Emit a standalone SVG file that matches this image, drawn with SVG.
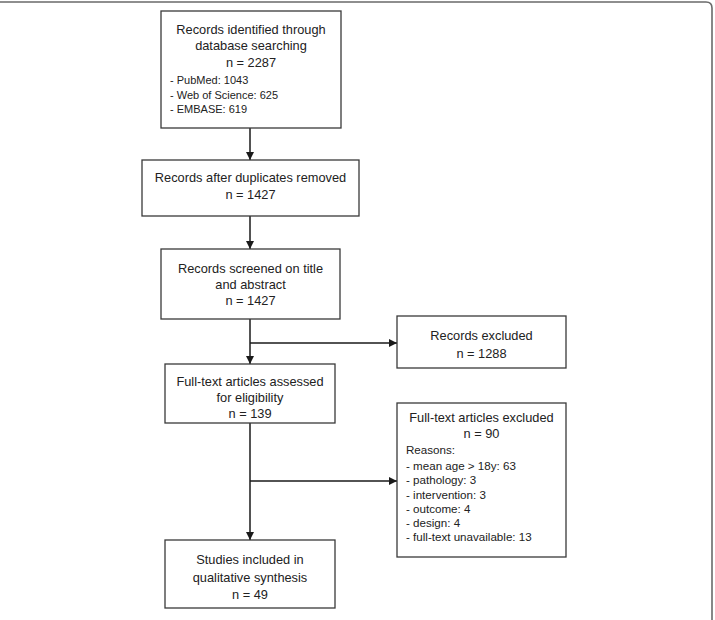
<svg xmlns="http://www.w3.org/2000/svg" width="715" height="620" viewBox="0 0 715 620">
  <defs>
    <marker id="arr" viewBox="0 0 10 10" refX="10" refY="5" markerWidth="8" markerHeight="8" markerUnits="userSpaceOnUse" orient="auto">
      <path d="M0,0 L10,5 L0,10 Z" fill="#1a1a1a"/>
    </marker>
    <style>
      .box { fill: #ffffff; stroke: #3a3a3a; stroke-width: 1.3; }
      .t { font-family: "Liberation Sans", Arial, sans-serif; font-size: 12.8px; fill: #222222; text-anchor: middle; }
      .s { font-family: "Liberation Sans", Arial, sans-serif; font-size: 11px; fill: #222222; }
      .s2 { font-family: "Liberation Sans", Arial, sans-serif; font-size: 11.6px; fill: #222222; }
      .c { fill: none; stroke: #1a1a1a; stroke-width: 1.5; }
      .frame { fill: none; stroke: #6a6a6a; stroke-width: 1.6; }
    </style>
  </defs>
  <rect width="715" height="620" fill="#ffffff"/>
  <path class="frame" d="M0,2 H706 Q712,2 712,8 V620"/>

  <g id="connectors">
    <line class="c" x1="250" y1="128" x2="250" y2="160" marker-end="url(#arr)"/>
    <line class="c" x1="250" y1="216" x2="250" y2="249" marker-end="url(#arr)"/>
    <line class="c" x1="250" y1="319" x2="250" y2="364" marker-end="url(#arr)"/>
    <line class="c" x1="250" y1="343" x2="397" y2="343" marker-end="url(#arr)"/>
    <line class="c" x1="250" y1="423" x2="250" y2="540" marker-end="url(#arr)"/>
    <line class="c" x1="250" y1="481" x2="397" y2="481" marker-end="url(#arr)"/>
  </g>

  <g id="identified">
    <rect class="box" x="161" y="11" width="180" height="117"/>
    <text class="t" x="251" y="34">Records identified through</text>
    <text class="t" x="251" y="50">database searching</text>
    <text class="t" x="251" y="67">n = 2287</text>
    <text class="s" x="170" y="84">- PubMed: 1043</text>
    <text class="s" x="170" y="98.5">- Web of Science: 625</text>
    <text class="s" x="170" y="113">- EMBASE: 619</text>
  </g>

  <g id="duplicates">
    <rect class="box" x="142" y="160" width="217" height="56"/>
    <text class="t" x="250.5" y="182">Records after duplicates removed</text>
    <text class="t" x="250.5" y="199">n = 1427</text>
  </g>

  <g id="screened">
    <rect class="box" x="161" y="249" width="179" height="70"/>
    <text class="t" x="250.5" y="273">Records screened on title</text>
    <text class="t" x="250.5" y="289">and abstract</text>
    <text class="t" x="250.5" y="305">n = 1427</text>
  </g>

  <g id="excluded">
    <rect class="box" x="397" y="316" width="169" height="52"/>
    <text class="t" x="481.5" y="340">Records excluded</text>
    <text class="t" x="481.5" y="358">n = 1288</text>
  </g>

  <g id="fulltext">
    <rect class="box" x="165" y="364" width="170" height="59"/>
    <text class="t" x="250" y="386">Full-text articles assessed</text>
    <text class="t" x="250" y="402">for eligibility</text>
    <text class="t" x="250" y="418">n = 139</text>
  </g>

  <g id="fulltext-excluded">
    <rect class="box" x="397" y="403" width="169" height="154"/>
    <text class="t" x="481.5" y="422">Full-text articles excluded</text>
    <text class="t" x="481.5" y="438">n = 90</text>
    <text class="s2" x="406" y="453.5">Reasons:</text>
    <text class="s2" x="406" y="469.5">- mean age &gt; 18y: 63</text>
    <text class="s2" x="406" y="484">- pathology: 3</text>
    <text class="s2" x="406" y="498.5">- intervention: 3</text>
    <text class="s2" x="406" y="512.5">- outcome: 4</text>
    <text class="s2" x="406" y="526.5">- design: 4</text>
    <text class="s2" x="406" y="541">- full-text unavailable: 13</text>
  </g>

  <g id="included">
    <rect class="box" x="165" y="540" width="170" height="68"/>
    <text class="t" x="250" y="564">Studies included in</text>
    <text class="t" x="250" y="582">qualitative synthesis</text>
    <text class="t" x="250" y="599">n = 49</text>
  </g>
</svg>
